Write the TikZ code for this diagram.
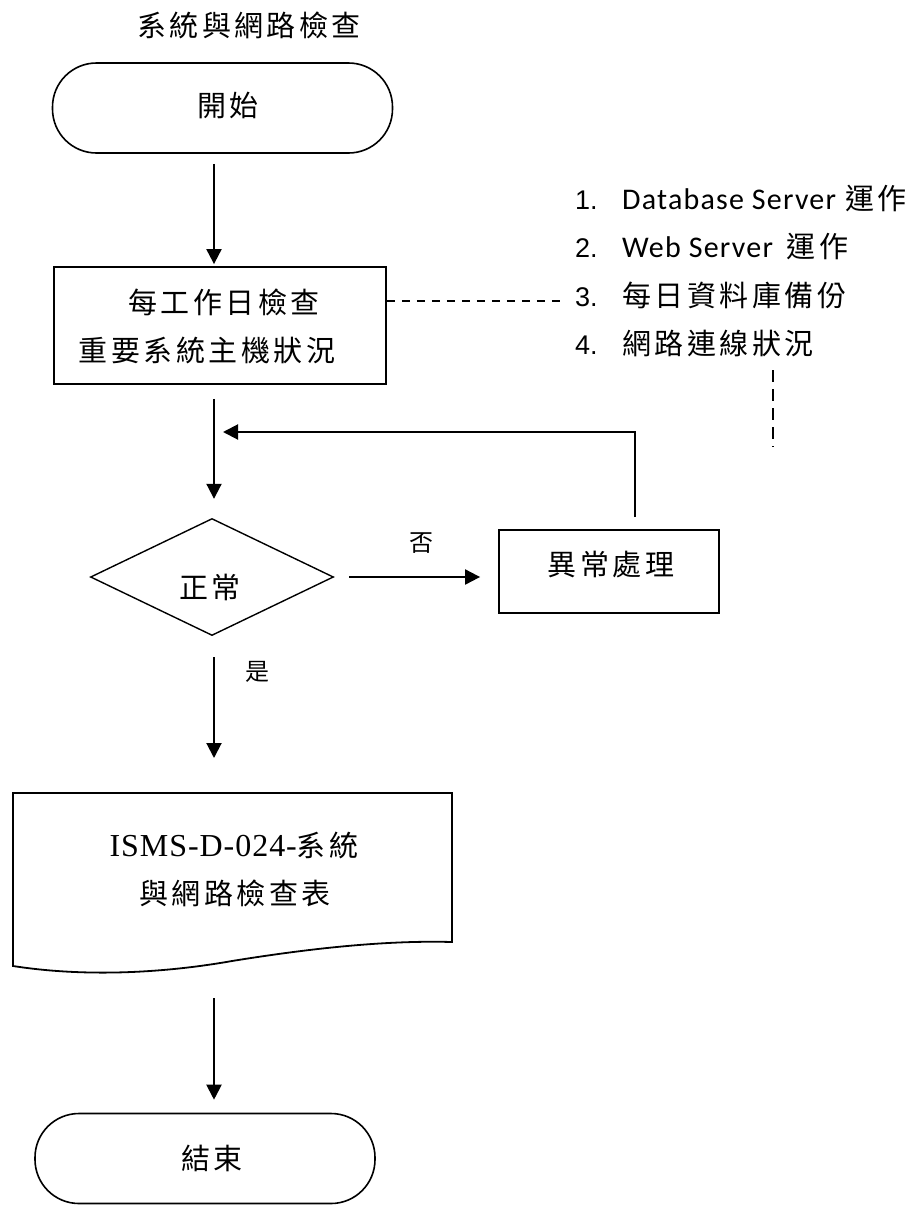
\documentclass[tikz,border=0pt]{standalone}
\usepackage{fontspec}
\setmainfont{Liberation Serif}
\newfontfamily\cjkls[LetterSpace=12]{Noto Sans CJK TC}
\newfontfamily\cjkplain{Noto Sans CJK TC}
\newfontfamily\calibls[LetterSpace=4]{Carlito}
\newfontfamily\arialf{Liberation Sans}
\newfontfamily\serls[LetterSpace=3]{Liberation Serif}
\usetikzlibrary{shapes.geometric,arrows.meta,calc}
\newcommand\zh{\fontsize{29pt}{33pt}\cjkls}
\newcommand\zhs{\fontsize{24pt}{28pt}\cjkplain}
\newcommand\lat{\fontsize{30pt}{34pt}\calibls}
\newcommand\itemnum[1]{\makebox[47pt][l]{\arialf\fontsize{27pt}{31pt}\selectfont #1}}
\begin{document}
\begin{tikzpicture}[x=1pt,y=-1pt,
  term/.style={draw, line width=1.6pt, rounded corners=44pt, minimum width=340pt, minimum height=90pt, inner sep=0pt},
  boxn/.style={draw, line width=1.8pt, inner sep=0pt},
  arr/.style={line width=2pt, -{Triangle[length=15pt,width=15pt]}},
  dsh/.style={line width=2pt, dash pattern=on 8pt off 7pt},
  txt/.style={inner sep=0pt, font=\zh},
  small/.style={inner sep=0pt, font=\zhs},
  listitem/.style={anchor=west, inner sep=0pt},
]
\useasboundingbox (0,0) rectangle (912,1205);
\coordinate (col) at (214,0);

% title
\node[txt] (title) at (249,25) {系統與網路檢查};

% start
\node[term] (start) at (222.5,108) {};
\node[txt] (starttxt) at (228,105) {開始};

% daily check box
\node[boxn, minimum width=332pt, minimum height=117pt] (check) at (220,325.5) {};
\node[txt] (checka) at (224,302) {每工作日檢查};
\node[txt] (checkb) at (207,350) {重要系統主機狀況};

% list
\node[listitem] (it1) at (575,198) {\itemnum{1.}{\lat Database Server}\hspace{9pt}{\zh 運作}};
\node[listitem] (it2) at (575,246) {\itemnum{2.}{\lat Web Server}\hspace{14pt}{\zh 運作}};
\node[listitem] (it3) at (575,295) {\itemnum{3.}{\zh 每日資料庫備份}};
\node[listitem] (it4) at (575,343) {\itemnum{4.}{\zh 網路連線狀況}};

\coordinate (d3) at (565,301);
\draw[dsh] (check.east |- d3) -- (d3);
\coordinate (va) at (773,370);
\coordinate (vb) at (773,447);
\draw[dsh, dash pattern=on 12pt off 7pt] (va) -- (vb);

% decision
\node[draw, line width=1.4pt, diamond, aspect=2.08, minimum width=243pt, minimum height=117pt, inner sep=0pt] (dec) at (212,577) {};
\node[txt] (dectxt) at (210,587) {正常};

% exception box
\node[boxn, minimum width=220pt, minimum height=83pt] (fix) at (609,571.5) {};
\node[txt] (fixtxt) at (611,565) {異常處理};

% document
\draw[line width=1.8pt] (13,793) -- (452,793) -- (452,942)
  .. controls (380,940) and (300,950) .. (232,961)
  .. controls (170,972) and (90,978) .. (13,966) -- cycle;
\coordinate (doctop) at (214,793);
\coordinate (docbot) at (214,962);
\node[inner sep=0pt] (doca) at (234,845) {{\fontsize{32pt}{36pt}\serls ISMS-D-024-}{\zh 系統}};
\node[txt] (docb) at (235,893) {與網路檢查表};

% end
\node[term] (stop) at (205,1158.5) {};
\node[txt] (stoptxt) at (212,1158) {結束};

% connectors
\draw[arr, shorten <=10pt, shorten >=2pt] (col |- start.south) -- (col |- check.north);
\draw[arr, shorten <=14pt, shorten >=19pt] (col |- check.south) -- (col |- dec.north);
\coordinate (fbx) at (635,0);
\coordinate (fbtip) at (223,432);
\draw[arr, shorten <=12pt] (fbx |- fix.north) |- (fbtip);
\draw[arr, shorten <=15pt, shorten >=18pt] (dec.east) -- (dec.east -| fix.west);
\node[small] (no) at (421,543) {否};
\draw[arr, shorten <=21pt, shorten >=35pt] (col |- dec.south) -- (col |- doctop);
\node[small] (yes) at (257,672) {是};
\draw[arr, shorten <=36pt, shorten >=13pt] (col |- docbot) -- (col |- stop.north);
\end{tikzpicture}
\end{document}
